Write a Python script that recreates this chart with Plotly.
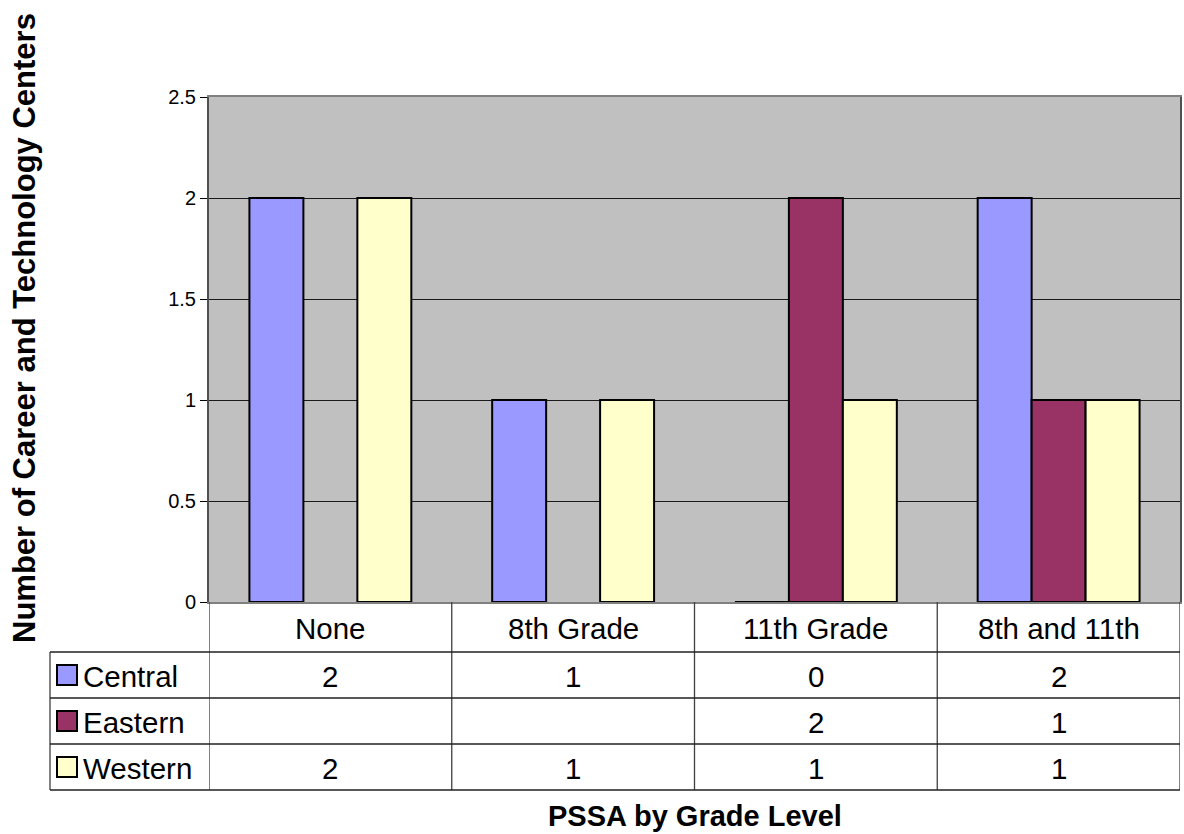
import plotly.graph_objects as go

categories = ["None", "8th Grade", "11th Grade", "8th and 11th"]
series_names = ["Central", "Eastern", "Western"]
central = [2, 1, 0, 2]
eastern = [None, None, 2, 1]
western = [2, 1, 1, 1]
series_values = [central, eastern, western]
series_colors = ["#9999FF", "#993366", "#FFFFCC"]
y_ticks = [0, 0.5, 1, 1.5, 2, 2.5]
y_tick_labels = ["0", "0.5", "1", "1.5", "2", "2.5"]

W, H = 1184, 834
FONT = "Arial, Liberation Sans, sans-serif"
TSIZE = 29.5


def px(x):
    return x / W


def py(y):
    return 1 - y / H


fig = go.Figure()
for name, vals, col in zip(series_names, series_values, series_colors):
    fig.add_trace(go.Bar(
        x=categories, y=vals, name=name,
        marker=dict(color=col, line=dict(color="black", width=2)),
        showlegend=False,
    ))

shapes = []
annotations = []

# table grid
table_top, header_bottom = 602, 652
row_bounds = [652, 698, 744, 790]
for i in range(len(categories) + 1):
    shapes.append(dict(type="line", xref="x", yref="paper",
                       x0=i - 0.5, x1=i - 0.5, y0=py(table_top), y1=py(row_bounds[-1]),
                       line=dict(color="#404040", width=1.3)))
shapes.append(dict(type="line", xref="paper", yref="paper",
                   x0=px(50), x1=px(50), y0=py(header_bottom), y1=py(row_bounds[-1]),
                   line=dict(color="#404040", width=1.3)))
for yb in row_bounds:
    shapes.append(dict(type="line", xref="paper", yref="paper",
                       x0=px(50), x1=px(1180), y0=py(yb), y1=py(yb),
                       line=dict(color="#202020", width=1.3)))

# header labels
for c in categories:
    annotations.append(dict(x=c, xref="x", y=py((table_top + header_bottom) / 2 + 1), yref="paper",
                            text=c, showarrow=False, xanchor="center", yanchor="middle",
                            font=dict(family=FONT, size=TSIZE, color="black")))

# rows
for r, (name, vals, col) in enumerate(zip(series_names, series_values, series_colors)):
    yc = (row_bounds[r] + row_bounds[r + 1]) / 2
    shapes.append(dict(type="rect", xref="paper", yref="paper",
                       x0=px(57), x1=px(77), y0=py(yc - 10), y1=py(yc + 10),
                       fillcolor=col, line=dict(color="black", width=2)))
    annotations.append(dict(x=px(81), xref="paper", y=py(yc + 1), yref="paper",
                            text=name, showarrow=False, xanchor="left", yanchor="middle",
                            font=dict(family=FONT, size=TSIZE, color="black")))
    for c, v in zip(categories, vals):
        if v is None:
            continue
        annotations.append(dict(x=c, xref="x", y=py(yc + 1), yref="paper",
                                text=str(v), showarrow=False, xanchor="center", yanchor="middle",
                                font=dict(family=FONT, size=TSIZE, color="black")))

# axis titles
annotations.append(dict(x=px(24), xref="paper", y=py(328), yref="paper",
                        text="<b>Number of Career and Technology Centers</b>", textangle=-90,
                        showarrow=False, xanchor="center", yanchor="middle",
                        font=dict(family=FONT, size=31, color="black")))
annotations.append(dict(x=px(695), xref="paper", y=py(816), yref="paper",
                        text="<b>PSSA by Grade Level</b>", showarrow=False,
                        xanchor="center", yanchor="middle",
                        font=dict(family=FONT, size=29, color="black")))

fig.update_layout(
    width=W, height=H,
    margin=dict(l=0, r=0, t=0, b=0, pad=0, autoexpand=False),
    paper_bgcolor="white",
    plot_bgcolor="#C0C0C0",
    barmode="group",
    bargap=0.333,
    bargroupgap=0,
    shapes=shapes,
    annotations=annotations,
    xaxis=dict(domain=[px(209), px(1180)], range=[-0.5, 3.5], showticklabels=False,
               ticks="", showgrid=False, showline=True, linecolor="#808080", linewidth=2,
               mirror=True, zeroline=False, fixedrange=True, automargin=False),
    yaxis=dict(domain=[py(602), py(97)], range=[0, 2.5], tickvals=y_ticks, ticktext=y_tick_labels,
               ticks="outside", ticklen=7, tickcolor="black", showgrid=True,
               gridcolor="#1a1a1a", gridwidth=1, showline=True, linecolor="#505050",
               linewidth=2, mirror=True, zeroline=False, automargin=False,
               tickfont=dict(family=FONT, size=20, color="black"), fixedrange=True),
)

fig.write_html(
    "out.html",
    config={"displayModeBar": False},
    post_script="document.body.style.margin='0';document.body.style.overflow='hidden';",
)
